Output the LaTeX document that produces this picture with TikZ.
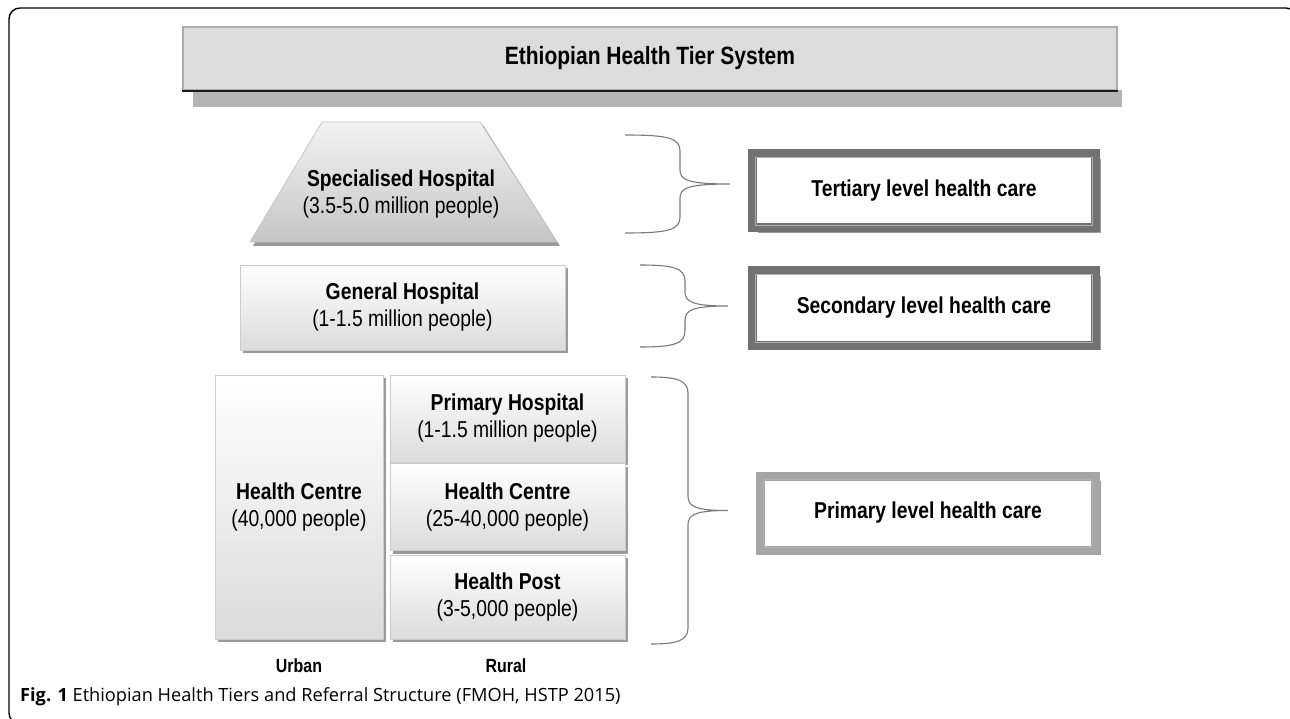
\documentclass[tikz,border=0pt]{standalone}
\usepackage{fontspec}
\setmainfont{Liberation Sans}
\newfontfamily\dfont[FakeStretch=0.84]{Liberation Sans}
\newfontfamily\capfont{Open Sans}
\usetikzlibrary{shadows}

\definecolor{titlefill}{HTML}{DCDCDC}
\definecolor{titleshadow}{HTML}{B4B4B4}
\definecolor{bracegray}{HTML}{7A7A7A}
\definecolor{banddark}{HTML}{727272}
\definecolor{bandlight}{HTML}{A6A6A6}
\definecolor{bandshadow}{HTML}{9C9C9C}
\definecolor{boxshadow}{HTML}{9A9A9A}

\tikzset{
  hosp/.style={rectangle, draw=gray!40, line width=0.8pt,
    top color=white, bottom color=gray!28,
    drop shadow={shadow xshift=3pt, shadow yshift=-3pt, fill=boxshadow, opacity=1},
    align=center, font=\dfont\fontsize{23}{27}\selectfont, inner sep=0pt},
  tierbox/.style={rectangle, fill=white, draw=#1, line width=9pt,
    minimum width=343pt, minimum height=74pt, inner sep=0pt,
    drop shadow={shadow xshift=5pt, shadow yshift=-5pt, fill=bandshadow, opacity=1},
    font=\dfont\bfseries\fontsize{23}{27}\selectfont},
  innerline/.style={draw=gray!60, line width=0.8pt},
  tierbrace/.style={draw=bracegray, line width=1.1pt},
  lbl/.style={font=\dfont\bfseries\fontsize{19}{22}\selectfont, inner sep=0pt}
}

% curly bracket: left end x, top y, bottom y, spine x, tip x
\newcommand\tierbrace[5]{%
  \pgfmathsetmacro\ymid{(#2+#3)/2}%
  \draw[tierbrace] (#1,#2) .. controls (#4-12,#2) and (#4,#2+3) .. (#4,#2+16)
    -- (#4,\ymid-14) .. controls (#4,\ymid-4) and (#4+8,\ymid) .. (#5,\ymid)
    .. controls (#4+8,\ymid) and (#4,\ymid+4) .. (#4,\ymid+14)
    -- (#4,#3-16) .. controls (#4,#3-3) and (#4-12,#3) .. (#1,#3);}

\begin{document}
\begin{tikzpicture}[x=1pt,y=-1pt]
\useasboundingbox (0,0) rectangle (1290,719);

% outer frame of the figure
\begin{scope}
  \clip (0,0) rectangle (1290,719);
  \draw[line width=1.4pt, rounded corners=11pt] (9,8) rectangle (1297,724);
\end{scope}

% title bar
\fill[titleshadow] (193,90) rectangle (1122,107);
\node[rectangle, fill=titlefill, draw=gray!65, line width=1.5pt,
  minimum width=934pt, minimum height=63pt, inner sep=0pt,
  font=\dfont\bfseries\fontsize{25}{29}\selectfont] (title) at (650,58.5)
  {\raisebox{4pt}{Ethiopian Health Tier System}};
\draw[gray!20!black, line width=1.6pt] (title.south west) -- (title.south east);

% specialised hospital (trapezoid)
\fill[boxshadow] (325,125) -- (483,125) -- (560,246) -- (253,246) -- cycle;
\shade[top color=gray!10, bottom color=gray!45, draw=gray!45, line width=0.8pt]
  (322,122) -- (480,122) -- (557,242) -- (250,242) -- cycle;
\node[align=center, font=\dfont\fontsize{23}{27}\selectfont] (spec) at (401,194)
  {\textbf{Specialised Hospital}\\(3.5-5.0 million people)};

% general hospital
\node[hosp, minimum width=325pt, minimum height=85pt] (gen) at (402.5,307.5)
  {\textbf{General Hospital}\\(1-1.5 million people)};

% primary tier: urban and rural facilities
\node[hosp, minimum width=168pt, minimum height=264pt] (hcu) at (299,507)
  {\textbf{Health Centre}\\(40,000 people)};
\node[hosp, minimum width=235pt, minimum height=87pt] (ph) at (507.5,418.5)
  {\textbf{Primary Hospital}\\(1-1.5 million people)};
\node[hosp, minimum width=235pt, minimum height=87pt] (hcr) at (507.5,507)
  {\textbf{Health Centre}\\(25-40,000 people)};
\node[hosp, minimum width=235pt, minimum height=84pt] (hp) at (507.5,597)
  {\textbf{Health Post}\\(3-5,000 people)};

\node[lbl] (urban) at (299,666) {Urban};
\node[lbl] (rural) at (506,666) {Rural};

% brackets grouping the facilities into tiers
\tierbrace{625}{135}{233}{680}{730}
\tierbrace{640}{265}{347}{685}{728}
\tierbrace{651}{377}{644}{688}{728}

% tier labels
\node[tierbox=banddark] (tert) at (924,191) {Tertiary level health care};
\draw[innerline] ([shift={(7.5pt,-7.5pt)}]tert.north west) rectangle ([shift={(-7.5pt,7.5pt)}]tert.south east);
\node[tierbox=banddark] (sec) at (924,308) {Secondary level health care};
\draw[innerline] ([shift={(7.5pt,-7.5pt)}]sec.north west) rectangle ([shift={(-7.5pt,7.5pt)}]sec.south east);
\node[tierbox=bandlight, minimum width=335pt] (prim) at (928,513) {Primary level health care};
\draw[innerline] ([shift={(7.5pt,-7.5pt)}]prim.north west) rectangle ([shift={(-7.5pt,7.5pt)}]prim.south east);

% caption
\node[anchor=west, inner sep=0pt, font=\capfont\fontsize{18.2}{22}\selectfont] (cap) at (20,697)
  {\textbf{Fig. 1} Ethiopian Health Tiers and Referral Structure (FMOH, HSTP 2015)};
\end{tikzpicture}
\end{document}
